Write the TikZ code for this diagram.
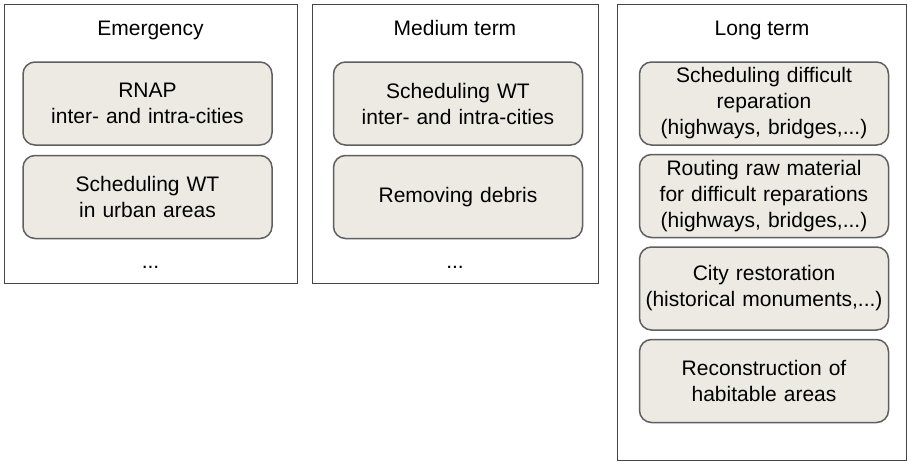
\documentclass[tikz,border=0pt]{standalone}
\usepackage{fontspec}
\setmainfont{Liberation Sans}
\usepackage{tikz}
\usetikzlibrary{positioning}
\definecolor{BoxFill}{RGB}{236,234,226}
\definecolor{BoxLine}{RGB}{95,95,95}
\definecolor{PanelLine}{RGB}{70,70,70}

\tikzset{
	panel/.style={draw=PanelLine, line width=1pt, minimum width=#1, inner sep=0pt},
	task/.style={draw=BoxLine, fill=BoxFill, line width=1.5pt, rounded corners=12pt,
		minimum width=249pt, minimum height=83pt, text width=247pt, align=center, inner sep=0pt,
		font=\fontsize{21}{26}\selectfont},
	head/.style={font=\fontsize{21}{25}\selectfont, inner sep=0pt, anchor=base},
}

\begin{document}
\begin{tikzpicture}[x=1pt, y=-1pt]
			\useasboundingbox (0,0) rectangle (907,461);
			
			% 三个阶段的外框
			\node[panel=293pt, minimum height=279pt] (emerg) at (150.5,143.5) {};
			\node[panel=286pt, minimum height=279pt] (medium) at (455,143.5) {};
			\node[panel=289pt, minimum height=456pt] (long) at (761.5,232) {};
			
			\node[head] (emergT) at (150.5,35) {Emergency};
			\node[head] (mediumT) at (455,35) {Medium term};
			\node[head] (longT) at (762,35) {Long term};
			
			% 紧急阶段
			\node[task] (rnap) at (147.5,103.5) {RNAP\\inter- and intra-cities};
			\node[task, below=9pt of rnap] (wturban) {Scheduling WT\\in urban areas};
			\node[head] (emergD) at (150.5,268) {...};
			
			% 中期
			\node[task] (wtcities) at (458,103.5) {Scheduling WT\\inter- and intra-cities};
			\node[task, below=9pt of wtcities] (debris) {Removing debris};
			\node[head] (mediumD) at (455,268) {...};
			
			% 长期
			\node[task] (repar) at (764,103.5) {Scheduling difficult\\reparation\\(highways, bridges,...)};
			\node[task, below=8pt of repar] (rawmat) {Routing raw material\\for difficult reparations\\(highways, bridges,...)};
			\node[task, below=8pt of rawmat] (restor) {City restoration\\(historical monuments,...)};
			\node[task, below=8pt of restor] (habit) {Reconstruction of\\habitable areas};
		\end{tikzpicture}
\end{document}
